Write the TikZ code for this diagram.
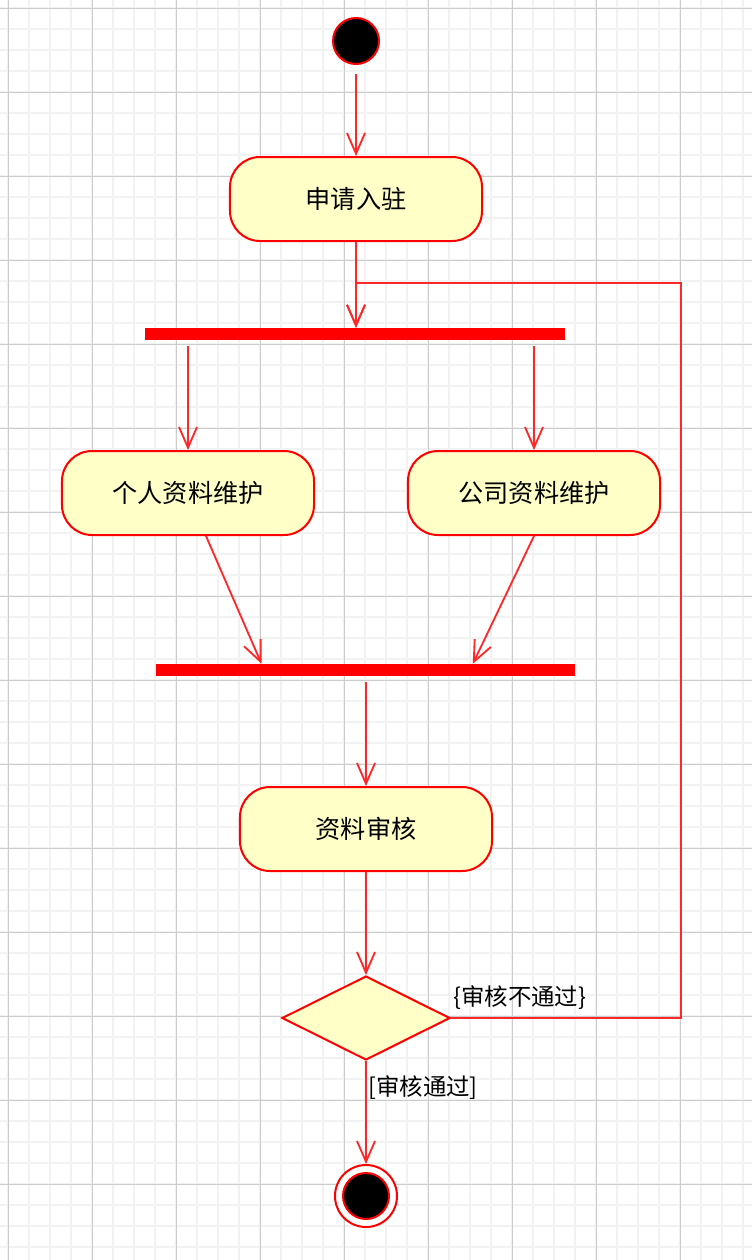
\documentclass[tikz,border=0pt]{standalone}
\usepackage{fontspec}
\setmainfont{Noto Sans CJK SC}
\usepackage{tikz}
\usetikzlibrary{shapes.geometric, arrows.meta, positioning, calc}
\definecolor{umlred}{RGB}{255,0,0}
\definecolor{linered}{RGB}{255,40,40}
\definecolor{actfill}{RGB}{255,255,200}
\definecolor{gridmajor}{RGB}{204,204,204}
\definecolor{gridminor}{RGB}{242,242,242}
\tikzset{
  activity/.style = {rectangle, rounded corners=0.9cm, draw=umlred, fill=actfill,
                     line width=0.06cm, minimum width=7.56cm, minimum height=2.52cm,
                     font=\fontsize{21.5}{25}\selectfont},
  forkbar/.style  = {rectangle, fill=umlred, inner sep=0pt,
                     minimum height=0.36cm, minimum width=#1},
  forkbar/.default = 12.6cm,
  startdot/.style = {circle, draw=umlred, fill=black, line width=0.06cm,
                     inner sep=0pt, minimum size=1.38cm},
  enddot/.style   = {circle, draw=umlred, fill=white, line width=0.06cm,
                     inner sep=0pt, minimum size=1.86cm},
  branch/.style   = {diamond, draw=umlred, fill=actfill, line width=0.06cm,
                     inner sep=0pt, minimum width=5.04cm, minimum height=2.52cm},
  flow/.style     = {-{Straight Barb[length=0.62cm, width=0.54cm]},
                     draw=linered, line width=0.055cm},
  guard/.style    = {font=\fontsize{20}{23}\selectfont, inner sep=0pt},
}

\begin{document}
\begin{tikzpicture}[
  x=0.03cm, y=-0.03cm,
  minorline/.style={draw=gridminor, line width=0.06cm},
  majorline/.style={draw=gridmajor, line width=0.03cm}
]
  \useasboundingbox[fill=white] (0,0) rectangle (752,1260);
  \foreach \k in {0,...,35} \draw[minorline] ({8+21*\k},0) -- ({8+21*\k},1260);
  \foreach \k in {0,...,59} \draw[minorline] (0,{8+21*\k}) -- (752,{8+21*\k});
  \foreach \k in {0,...,8}  \draw[majorline] ({8+84*\k},0) -- ({8+84*\k},1260);
  \foreach \k in {0,...,14} \draw[majorline] (0,{8+84*\k}) -- (752,{8+84*\k});

  \node[startdot] (start)    at (356, 41)   {};
  \node[activity] (apply)    at (356, 199)  {申请入驻};
  \node[forkbar]  (fork)     at (355, 334)  {};
  \node[activity] (personal) at (188, 493)  {个人资料维护};
  \node[activity] (company)  at (534, 493)  {公司资料维护};
  \node[forkbar=12.57cm] (join) at (365.5, 670) {};
  \node[activity] (review)   at (366, 829)  {资料审核};
  \node[branch]   (check)    at (366, 1018) {};
  \node[enddot]   (stop)     at (366, 1196) {};
  \node[startdot] (stopdot)  at (stop)      {};
  \coordinate (loopcorner) at (681, 283);

  \draw[flow, shorten <=0.27cm] (start) -- (apply);
  \draw[flow] (apply.south) -- (apply.south |- fork.north);
  \draw[flow, shorten <=0.18cm] (personal.north |- fork.south) -- (personal.north);
  \draw[flow, shorten <=0.18cm] (company.north |- fork.south) -- (company.north);
  \draw[flow] ([xshift=0.54cm]personal.south) -- ([xshift=-3.12cm]join.north);
  \draw[flow] (company.south) -- ([xshift=3.22cm]join.north);
  \draw[flow, shorten <=0.18cm] (join.south -| review.north) -- (review.north);
  \draw[flow] (review) -- (check);
  \draw[flow] (check) -- (stop);
  \draw[flow] (check.east) -| (loopcorner) -| (apply.south |- fork.north);

  \node[guard, anchor=south west] (failnote)
    at ([xshift=0.06cm, yshift=0.24cm]check.east) {\{审核不通过\}};
  \node[guard, anchor=north west] (passnote)
    at ([xshift=0.06cm, yshift=-0.42cm]check.south) {[审核通过]};
\end{tikzpicture}
\end{document}
